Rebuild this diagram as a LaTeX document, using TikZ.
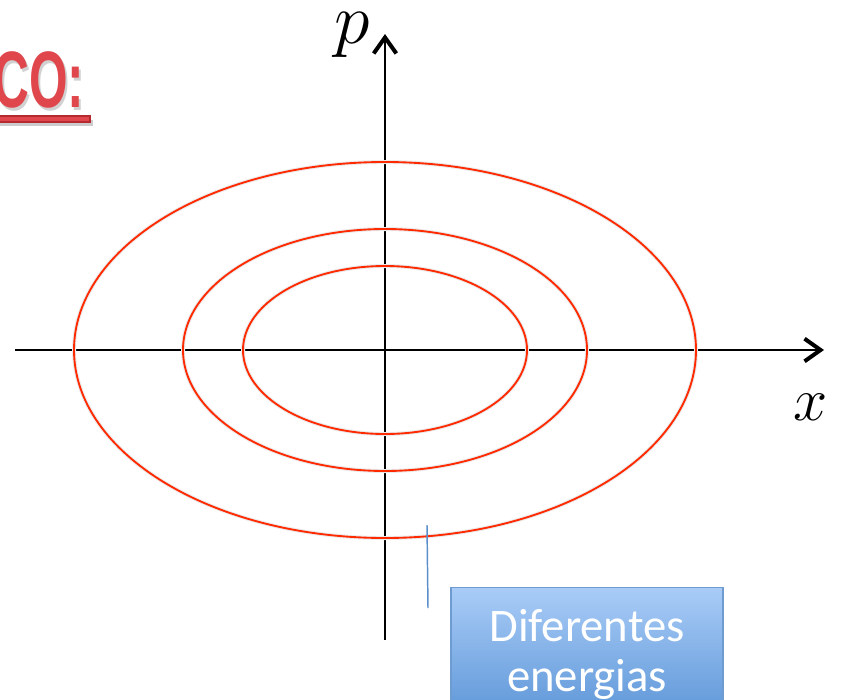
\RequirePackage{fix-cm}
\documentclass[tikz,border=0pt]{standalone}
\usepackage{fontspec}
\newfontfamily\boxfont{Carlito}
\newfontfamily\titlefont{Liberation Sans}
\usetikzlibrary{arrows.meta, positioning}
\definecolor{orbitred}{HTML}{FF2A00}
\definecolor{titlered}{HTML}{E0474C}
\definecolor{titleedge}{HTML}{B52A2E}
\definecolor{boxtop}{HTML}{A9CCF7}
\definecolor{boxbot}{HTML}{5C95D7}
\definecolor{boxedge}{HTML}{6E9CD0}
\definecolor{tagblue}{HTML}{5B8FC9}

\begin{document}
\begin{tikzpicture}[
  x=0.75pt, y=-0.75pt,
  axis/.style={line width=1.8pt, -{Straight Barb[length=12pt,width=17pt,line width=3pt]}},
  orbit/.style={draw=orbitred, line width=1.4pt},
  orbitshade/.style={draw=black!8, line width=3pt},
  axislabel/.style={inner sep=0pt, anchor=base},
  energybox/.style={draw=boxedge, line width=0.8pt, top color=boxtop, bottom color=boxbot,
                    minimum width=204pt, minimum height=100pt, anchor=north, align=center,
                    text=white, font=\boxfont\fontsize{35}{37.5}\selectfont, inner ysep=11pt},
  tagline/.style={draw=tagblue, line width=1.1pt},
  titletext/.style={inner sep=0pt, anchor=base west, font=\titlefont\bfseries\fontsize{60}{60}\selectfont}
]
\useasboundingbox (0,0) rectangle (843,700);
\clip (0,0) rectangle (843,700);

% title, cut at the left edge
\node[titletext, text=black!18] (tituloshade) at (-5,110) {\scalebox{0.62}[1]{CO:}};
\node[titletext, text=titlered] (titulo) at (-7,107) {\scalebox{0.62}[1]{CO:}};
\fill[black!20] (0,120) rectangle (93,126);
\draw[titleedge, fill=titlered, line width=0.8pt] (-2,116) rectangle (90,122);

% axes
\coordinate (o) at (385,350);
\coordinate (xl) at (15,350);
\coordinate (xr) at (824,350);
\coordinate (pb) at (385,640);
\coordinate (pt) at (385,34);
\draw[axis] (xl) -- (xr);
\draw[axis] (pb) -- (pt);
\node[axislabel, font=\fontsize{54}{54}\selectfont] (plabel) at (352,43) {$p$};
\node[axislabel, font=\fontsize{46}{46}\selectfont] (xlabel) at (811,420) {$x$};

% orbits
\foreach \rx/\ry in {311/188, 202/121, 142/84} {
  \draw[orbitshade, yshift=-2pt] (o) ellipse [x radius=\rx, y radius=\ry];
  \draw[orbit] (o) ellipse [x radius=\rx, y radius=\ry];
}

% callout
\coordinate (tagtop) at (427,525);
\coordinate (tagbot) at (428,608);
\draw[tagline] (tagtop) -- (tagbot);
\node[energybox] (energias) at (587,587) {Diferentes\\energias};
\end{tikzpicture}
\end{document}
